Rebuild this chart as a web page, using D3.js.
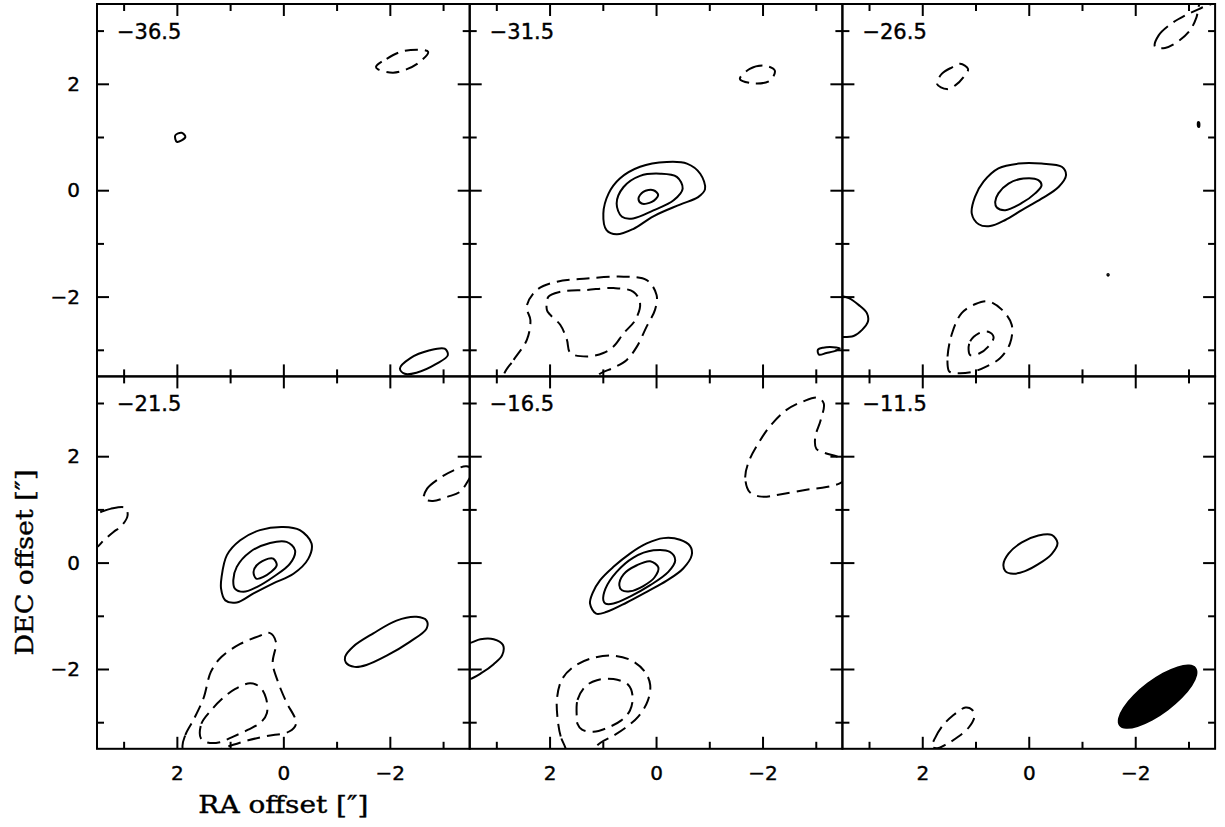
<!DOCTYPE html>
<html>
<head>
<meta charset="utf-8">
<script src="https://cdn.jsdelivr.net/npm/d3@7/dist/d3.min.js"></script>
<style>
  body { margin: 0; background: #fff; }
  svg { display: block; }
  .axis path { display: none; }
  .axis line { stroke: #000; stroke-width: 2; }
  .axis text { font-family: "DejaVu Sans", sans-serif; font-size: 20px; fill: #000; stroke: #000; stroke-width: 0.4; }
  .contour { fill: none; stroke: #000; stroke-width: 2; stroke-linejoin: round; }
  .label { font-family: "DejaVu Sans", sans-serif; font-size: 21px; fill: #000; stroke: #000; stroke-width: 0.4; }
  .title { font-family: "DejaVu Serif", serif; fill: #000; stroke: #000; stroke-width: 0.4; }
</style>
</head>
<body>
<div id="chart"></div>
<script>
// channel velocities (km/s), one panel each
var velocities = [-36.5, -31.5, -26.5, -21.5, -16.5, -11.5];

var majorTicks = [-2, 0, 2];
var minorTicks = [-3, -1, 1, 3];

// contours per channel: level in sigma (negative = dashed), points as [RA, DEC] offsets in arcsec
var chan365 = [
  {level: 3, pts: [[2.03,1.03],[1.91,1.08],[1.84,1.0],[2.0,0.91]]},
  {level: -3, pts: [[-1.74,2.32],[-1.94,2.47],[-2.28,2.62],[-2.72,2.60],[-2.56,2.41],[-2.31,2.27],[-2.06,2.21],[-1.78,2.27]]},
  {level: 3, pts: [[-2.19,-3.35],[-2.38,-3.16],[-2.75,-3.01],[-3.03,-2.98],[-3.09,-3.10],[-2.88,-3.26],[-2.5,-3.43],[-2.28,-3.45]]}
];

var chan315 = [
  {level: 3, pts: [[0.99,-0.44],[0.89,-0.06],[0.68,0.22],[0.30,0.44],[-0.20,0.53],[-0.58,0.50],[-0.83,0.31],[-0.92,0.02],[-0.79,-0.13],[-0.45,-0.27],[0.05,-0.49],[0.43,-0.73],[0.74,-0.83],[0.93,-0.75]]},
  {level: 6, pts: [[0.74,-0.25],[0.61,0.06],[0.30,0.27],[-0.08,0.31],[-0.39,0.25],[-0.5,0.03],[-0.33,-0.19],[0.05,-0.38],[0.43,-0.53],[0.64,-0.5]]},
  {level: 9, pts: [[0.33,-0.16],[0.24,-0.03],[0.05,0],[-0.04,-0.09],[0.08,-0.22],[0.27,-0.25]]},
  {level: -3, pts: [[-1.575,2.09],[-1.76,2.28],[-2.04,2.34],[-2.23,2.25],[-2.14,2.06],[-1.83,2.01]]},
  {level: -3, pts: [[2.86,-3.47],[2.675,-3.19],[2.425,-2.81],[2.36,-2.44],[2.43,-2.19],[2.24,-1.875],[1.86,-1.72],[1.30,-1.66],[0.61,-1.625],[0.175,-1.69],[-0.01,-1.97],[0.02,-2.25],[0.175,-2.56],[0.36,-2.94],[0.55,-3.19],[0.8,-3.34],[1.08,-3.47],[1.4,-4.0],[2.9,-4.0]]},
  {level: -6, pts: [[2.05,-2.25],[2.02,-2.0],[1.8,-1.91],[1.3,-1.875],[0.8,-1.84],[0.425,-1.91],[0.3,-2.125],[0.39,-2.44],[0.61,-2.69],[0.8,-2.94],[0.99,-3.06],[1.3,-3.125],[1.61,-3.06],[1.675,-2.81],[1.8,-2.53],[1.99,-2.34]]},
  {level: 3, pts: [[-3.04,-3.0],[-3.14,-2.96],[-3.325,-2.95],[-3.45,-2.97],[-3.39,-3.01],[-3.2,-3.06],[-3.06,-3.09]]}
];

var chan265 = [
  {level: 3, pts: [[1.07,-0.44],[1.01,-0.125],[0.85,0.16],[0.57,0.41],[0.19,0.5],[-0.24,0.5],[-0.62,0.44],[-0.7,0.28],[-0.56,0.06],[-0.24,-0.16],[0.13,-0.375],[0.44,-0.56],[0.725,-0.675],[0.94,-0.64]]},
  {level: 6, pts: [[0.63,-0.22],[0.57,-0.06],[0.38,0.125],[0.1,0.22],[-0.18,0.19],[-0.24,0.09],[-0.12,-0.06],[0.13,-0.24],[0.44,-0.375],[0.6,-0.325]]},
  {level: -3, pts: [[1.725,2.0],[1.63,2.19],[1.44,2.31],[1.29,2.375],[1.14,2.28],[1.225,2.125],[1.38,1.97],[1.54,1.9]]},
  {level: -3, pts: [[-2.37,2.7],[-2.44,2.91],[-2.65,3.11],[-2.93,3.28],[-3.24,3.425],[-3.56,3.56],[-3.68,3.69],[-3.43,3.72],[-3.21,3.5],[-3.15,3.25],[-3.025,3.0],[-2.81,2.8],[-2.56,2.675]]},
  {level: 3, pts: [[-3.18,1.28],[-3.2,1.27],[-3.2,1.19],[-3.18,1.2]]},
  {level: 3, pts: [[-1.48,-1.58],[-1.5,-1.58],[-1.5,-1.6],[-1.48,-1.6]]},
  {level: 3, pts: [[3.7,-1.99],[3.54,-1.99],[3.38,-2.03],[3.19,-2.16],[3.04,-2.31],[3.02,-2.47],[3.13,-2.625],[3.29,-2.74],[3.54,-2.76],[3.7,-2.76]]},
  {level: -3, pts: [[1.51,-3.375],[1.525,-3.125],[1.44,-2.69],[1.26,-2.31],[1.0,-2.14],[0.76,-2.09],[0.5,-2.25],[0.32,-2.53],[0.35,-2.875],[0.54,-3.16],[0.79,-3.31],[1.04,-3.41],[1.32,-3.44],[1.49,-3.41]]},
  {level: -6, pts: [[1.13,-3.0],[1.1,-2.84],[0.94,-2.69],[0.76,-2.66],[0.66,-2.76],[0.76,-2.94],[0.94,-3.075],[1.1,-3.1]]}
];

var chan215 = [
  {level: 3, pts: [[1.16,-0.27],[1.06,0.14],[0.81,0.42],[0.44,0.61],[0,0.67],[-0.31,0.61],[-0.53,0.36],[-0.47,0.075],[-0.19,-0.21],[0.19,-0.39],[0.56,-0.58],[0.875,-0.75],[1.09,-0.71],[1.17,-0.49]]},
  {level: 6, pts: [[0.94,-0.33],[0.875,-0.08],[0.625,0.2],[0.25,0.37],[-0.06,0.39],[-0.22,0.23],[-0.125,-0.02],[0.19,-0.27],[0.5,-0.46],[0.75,-0.55],[0.91,-0.49]]},
  {level: 9, pts: [[0.56,-0.175],[0.5,-0.05],[0.28,0.075],[0.19,0.075],[0.125,-0.05],[0.375,-0.27],[0.51,-0.3]]},
  {level: 3, pts: [[-1.16,-1.77],[-1.31,-1.58],[-1.69,-1.33],[-2.125,-1.09],[-2.5,-1.02],[-2.69,-1.09],[-2.69,-1.24],[-2.375,-1.49],[-1.94,-1.75],[-1.56,-1.925],[-1.34,-1.96],[-1.175,-1.88]]},
  {level: -3, pts: [[1.89,-3.49],[1.84,-3.24],[1.69,-2.96],[1.5,-2.55],[1.36,-2.05],[1.16,-1.77],[0.81,-1.53],[0.44,-1.375],[0.26,-1.32],[0.14,-1.49],[0.2,-1.89],[0.09,-2.27],[-0.05,-2.61],[-0.24,-3.02],[-0.11,-3.175],[0.31,-3.26],[0.66,-3.34],[0.94,-3.425],[1.19,-3.52],[1.55,-3.9]]},
  {level: -6, pts: [[1.55,-3.3],[1.54,-3.03],[1.36,-2.78],[1.16,-2.57],[0.91,-2.38],[0.625,-2.27],[0.44,-2.34],[0.325,-2.55],[0.31,-2.83],[0.42,-3.0],[0.66,-3.14],[0.94,-3.27],[1.19,-3.375],[1.425,-3.38]]},
  {level: -3, pts: [[3.51,0.93],[3.25,1.01],[2.97,1.03],[2.925,0.89],[3.03,0.7],[3.19,0.575],[3.375,0.42],[3.51,0.29],[3.8,0.3],[3.8,0.95]]},
  {level: -3, pts: [[-2.64,1.2],[-2.7,1.39],[-2.94,1.59],[-3.19,1.73],[-3.44,1.81],[-3.56,1.73],[-3.47,1.54],[-3.31,1.325],[-3.09,1.24],[-2.81,1.16]]}
];

var chan165 = [
  {level: 3, pts: [[1.24,-0.77],[1.19,-0.57],[1.05,-0.33],[0.8,-0.08],[0.49,0.17],[0.175,0.36],[-0.14,0.46],[-0.45,0.43],[-0.64,0.31],[-0.67,0.14],[-0.51,-0.11],[-0.2,-0.34],[0.175,-0.55],[0.55,-0.75],[0.925,-0.925],[1.125,-0.96]]},
  {level: 6, pts: [[0.99,-0.71],[0.95,-0.49],[0.74,-0.175],[0.425,0.094],[0.05,0.23],[-0.26,0.2],[-0.36,0.044],[-0.23,-0.175],[0.11,-0.425],[0.49,-0.64],[0.8,-0.77],[0.95,-0.77]]},
  {level: 9, pts: [[0.69,-0.425],[0.61,-0.22],[0.36,-0.05],[0.11,0.025],[-0.044,-0.094],[0.03,-0.28],[0.24,-0.44],[0.49,-0.54],[0.64,-0.52]]},
  {level: 3, pts: [[3.7,-1.5],[3.5,-1.51],[3.3,-1.44],[3.05,-1.44],[2.875,-1.55],[2.89,-1.74],[3.05,-1.91],[3.27,-2.07],[3.5,-2.19],[3.7,-2.2]]},
  {level: -3, pts: [[-1.76,1.325],[-1.675,1.6],[-1.75,1.92],[-1.95,2.29],[-2.17,2.6],[-2.45,2.87],[-2.76,3.03],[-3.04,3.1],[-3.15,2.99],[-3.09,2.67],[-2.99,2.36],[-3.01,2.14],[-3.17,2.06],[-3.45,1.97],[-3.6,1.825],[-3.6,1.6],[-3.45,1.49],[-3.2,1.42],[-2.825,1.37],[-2.325,1.28],[-1.98,1.24]]},
  {level: -3, pts: [[1.69,-3.52],[1.79,-3.27],[1.85,-2.925],[1.86,-2.55],[1.77,-2.2],[1.55,-1.96],[1.21,-1.8],[0.8,-1.75],[0.46,-1.84],[0.21,-2.05],[0.11,-2.3],[0.16,-2.61],[0.33,-2.89],[0.58,-3.11],[0.83,-3.27],[1.05,-3.39],[1.175,-3.52],[1.3,-3.9],[1.65,-3.9]]},
  {level: -6, pts: [[1.49,-2.89],[1.475,-2.58],[1.33,-2.33],[1.11,-2.21],[0.8,-2.19],[0.52,-2.3],[0.44,-2.52],[0.49,-2.78],[0.66,-2.97],[0.925,-3.11],[1.175,-3.18],[1.39,-3.14],[1.475,-3.03]]}
];

var chan115 = [
  {level: 3, pts: [[0.475,-0.03],[0.38,0.17],[0.13,0.38],[-0.18,0.51],[-0.43,0.52],[-0.54,0.37],[-0.43,0.16],[-0.18,-0.03],[0.07,-0.16],[0.29,-0.21],[0.44,-0.16]]},
  {level: -3, pts: [[1.82,-3.46],[1.76,-3.3],[1.62,-3.07],[1.43,-2.88],[1.19,-2.725],[1.07,-2.76],[1.02,-2.89],[1.12,-3.09],[1.32,-3.27],[1.54,-3.41],[1.72,-3.49]]}
];

var channelContours = [chan365, chan315, chan265, chan215, chan165, chan115];

// synthesized beam: centre offset, FWHM axes (arcsec), position angle (deg, east of north)
var beam = {ra: -2.42, dec: -2.52, major: 1.81, minor: 0.65, pa: -53};

var width = 1225, height = 827;
var frameLeft = 97, frameTop = 4, pw = 372.7, ph = 372.4;

var svg = d3.select("#chart").append("svg")
    .attr("width", width)
    .attr("height", height);

var fmt = d3.format("d");
var labelFmt = d3.format(".1f");
var line = d3.line().curve(d3.curveCatmullRomClosed.alpha(0.5));

velocities.forEach(function(v, i){
    var col = i % 3, row = Math.floor(i / 3);
    var x0 = frameLeft + col * pw, y0 = frameTop + row * ph;

    var x = d3.scaleLinear().domain([3.5, -3.5]).range([x0, x0 + pw]);
    var y = d3.scaleLinear().domain([-3.5, 3.5]).range([y0 + ph, y0]);

    var g = svg.append("g");

    g.append("clipPath").attr("id", "clip" + i)
      .append("rect")
        .attr("x", x0).attr("y", y0).attr("width", pw).attr("height", ph);

    var plot = g.append("g").attr("clip-path", "url(#clip" + i + ")");

    line.x(function(d){ return x(d[0]); }).y(function(d){ return y(d[1]); });

    plot.selectAll("path.contour")
        .data(channelContours[i])
        .enter().append("path")
        .attr("class", "contour")
        .attr("stroke-dasharray", function(d){ return d.level < 0 ? "13,7" : null; })
        .attr("d", function(d){ return line(d.pts); });

    if (i == 5) {
        var pa = beam.pa * Math.PI / 180;
        var rot = Math.atan2(-Math.cos(pa), -Math.sin(pa)) * 180 / Math.PI;
        plot.append("ellipse")
            .attr("cx", x(beam.ra))
            .attr("cy", y(beam.dec))
            .attr("rx", x(0) - x(beam.major / 2))
            .attr("ry", y(0) - y(beam.minor / 2))
            .attr("transform", "rotate(" + rot + "," + x(beam.ra) + "," + y(beam.dec) + ")")
            .attr("fill", "#000");
    }

    // ticks on all four sides, pointing inward
    var sides = [
        {axis: d3.axisBottom(x), tr: "translate(0," + (y0 + ph) + ")", labels: row == 1},
        {axis: d3.axisTop(x), tr: "translate(0," + y0 + ")", labels: false},
        {axis: d3.axisLeft(y), tr: "translate(" + x0 + ",0)", labels: col == 0},
        {axis: d3.axisRight(y), tr: "translate(" + (x0 + pw) + ",0)", labels: false}
    ];
    sides.forEach(function(s){
        g.append("g").attr("class", "axis").attr("transform", s.tr)
            .call(s.axis.tickValues(majorTicks).tickSize(-12).tickPadding(17)
                .tickFormat(s.labels ? fmt : ""));
        g.append("g").attr("class", "axis").attr("transform", s.tr)
            .call(s.axis.tickValues(minorTicks).tickSize(-7).tickFormat(""));
    });

    g.append("rect")
        .attr("x", x0).attr("y", y0).attr("width", pw).attr("height", ph)
        .attr("fill", "none").attr("stroke", "#000").attr("stroke-width", 2);

    g.append("text")
        .attr("class", "label")
        .attr("x", x0 + 20)
        .attr("y", y0 + 35)
        .text(labelFmt(v));
});

svg.append("text")
    .attr("class", "title")
    .attr("x", frameLeft + pw / 2)
    .attr("y", 813)
    .attr("text-anchor", "middle")
    .attr("font-size", 24)
    .attr("textLength", 170)
    .attr("lengthAdjust", "spacingAndGlyphs")
    .text("RA offset [\u2033]");

svg.append("text")
    .attr("class", "title")
    .attr("transform", "translate(33," + (frameTop + ph * 1.5) + ") rotate(-90)")
    .attr("text-anchor", "middle")
    .attr("font-size", 25)
    .attr("textLength", 186)
    .attr("lengthAdjust", "spacingAndGlyphs")
    .text("DEC offset [\u2033]");
</script>
</body>
</html>
